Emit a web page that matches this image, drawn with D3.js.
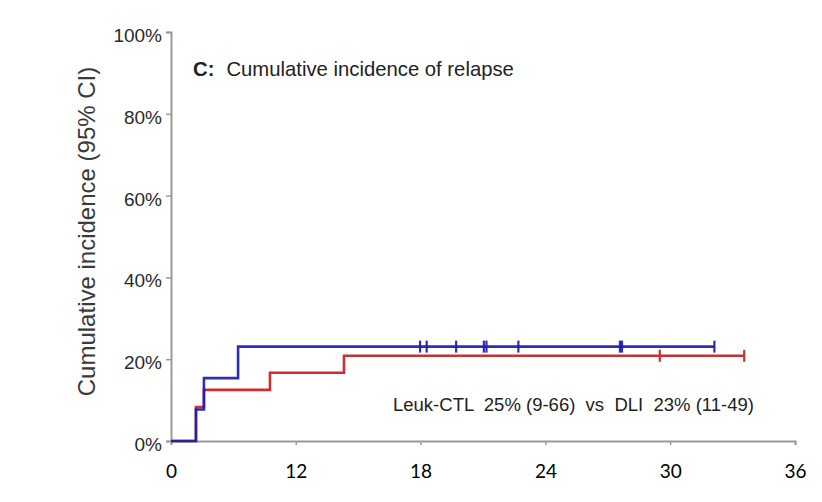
<!DOCTYPE html>
<html>
<head>
<meta charset="utf-8">
<script src="https://cdn.jsdelivr.net/npm/d3@7"></script>
<style>
  html, body { margin: 0; padding: 0; background: #fff; }
  svg { display: block; }
</style>
</head>
<body>
<svg id="chart" width="822" height="502"></svg>
<script>
// Follow-up in months; cumulative incidence of relapse in percent.
const xTickValues = [0, 7.2, 14.4, 21.6, 28.8, 36];
const xTickLabels = ["0", "12", "18", "24", "30", "36"];
const yTickValues = [0, 20, 40, 60, 80, 100];

// Leuk-CTL arm (blue): event times and cumulative incidence after each event
const ctlTimes = [0, 1.44, 1.9, 3.87];
const ctlValues = [0, 7.69, 15.38, 23.08];
const ctlEnd = 31.35;
const ctlCensored = [14.37, 14.75, 16.45, 18.05, 18.2, 20.04, 25.9, 26.02, 31.35];

// DLI arm (red)
const dliTimes = [0, 1.44, 1.9, 5.71, 9.98];
const dliValues = [0, 8.33, 12.5, 16.67, 20.83];
const dliEnd = 33.07;
const dliCensored = [28.2, 33.07];

const titleLead = "C:";
const titleText = "Cumulative incidence of relapse";
const yTitle = "Cumulative incidence (95% CI)";
const noteText = "Leuk-CTL  25% (9-66)  vs  DLI  23% (11-49)";

const svg = d3.select("#chart");
const margin = { left: 172, right: 27, top: 32, bottom: 61 };
const W = 822, H = 502;

const x = d3.scaleLinear().domain([0, 36]).range([margin.left - 1, W - margin.right]);
const y = d3.scaleLinear().domain([0, 100]).range([H - margin.bottom, margin.top]);

svg.append("rect").attr("width", W).attr("height", H).attr("fill", "#fff");

// x axis
const xAxis = d3.axisBottom(x)
  .tickValues(xTickValues)
  .tickFormat((d, i) => xTickLabels[i])
  .tickSize(4)
  .tickPadding(20);
const gx = svg.append("g")
  .attr("transform", `translate(0,${y(0)})`)
  .call(xAxis);
gx.select(".domain").attr("stroke", "#9a9a9a").attr("stroke-width", 2);
gx.selectAll(".tick line").attr("stroke", "#9a9a9a").attr("stroke-width", 1.5);
gx.selectAll(".tick text")
  .attr("font-family", "Lato, 'Open Sans', sans-serif")
  .attr("font-size", 19)
  .attr("fill", "#000");

// y axis
const yAxis = d3.axisLeft(y)
  .tickValues(yTickValues)
  .tickFormat(d => d + "%")
  .tickSize(5)
  .tickPadding(4);
const gy = svg.append("g")
  .attr("transform", `translate(${x(0)},0)`)
  .call(yAxis);
gy.select(".domain").attr("stroke", "#9a9a9a").attr("stroke-width", 2);
gy.selectAll(".tick line").attr("stroke", "#9a9a9a").attr("stroke-width", 1.5);
gy.selectAll(".tick text")
  .attr("font-family", "'Liberation Sans', Arial, sans-serif")
  .attr("font-size", 19)
  .attr("dy", "0.5em")
  .attr("fill", "#2a2a2a");

// y axis title
svg.append("text")
  .attr("transform", `translate(86,${(y(0) + y(100)) / 2 - 5}) rotate(-90)`)
  .attr("text-anchor", "middle")
  .attr("dominant-baseline", "central")
  .attr("font-family", "'Liberation Sans', Arial, sans-serif")
  .attr("font-size", 24)
  .attr("fill", "#3a3a3a")
  .text(yTitle);

// panel title
const title = svg.append("text")
  .attr("x", 193)
  .attr("y", 76)
  .attr("font-family", "'Liberation Sans', Arial, sans-serif")
  .attr("font-size", 20.3)
  .attr("fill", "#222");
title.append("tspan").attr("font-weight", "bold").text(titleLead);
title.append("tspan").attr("dx", 12).text(titleText);

// step curves
const stepLine = d3.line()
  .x(d => x(d[0]))
  .y(d => y(d[1]))
  .curve(d3.curveStepAfter);

function series(times, values, end, censored, color, opacity) {
  const pts = times.map((t, i) => [t, values[i]]);
  pts.push([end, values[values.length - 1]]);
  svg.append("path")
    .datum(pts)
    .attr("d", stepLine)
    .attr("fill", "none")
    .attr("stroke", color)
    .attr("stroke-width", 2.6)
    .attr("stroke-opacity", opacity);
  // censoring marks at the final level
  const level = values[values.length - 1];
  svg.append("g").selectAll("line")
    .data(censored)
    .join("line")
    .attr("x1", d => x(d)).attr("x2", d => x(d))
    .attr("y1", y(level) - 6).attr("y2", y(level) + 6)
    .attr("stroke", color)
    .attr("stroke-width", 2.2)
    .attr("stroke-opacity", opacity);
}

series(dliTimes, dliValues, dliEnd, dliCensored, "#c8312f", 1);
series(ctlTimes, ctlValues, ctlEnd, ctlCensored, "#1c1cae", 0.92);

// comparison note
svg.append("text")
  .attr("x", 393)
  .attr("y", 411)
  .attr("xml:space", "preserve")
  .style("white-space", "pre")
  .attr("font-family", "'Liberation Sans', Arial, sans-serif")
  .attr("font-size", 18.5)
  .attr("fill", "#222")
  .text(noteText);
</script>
</body>
</html>
